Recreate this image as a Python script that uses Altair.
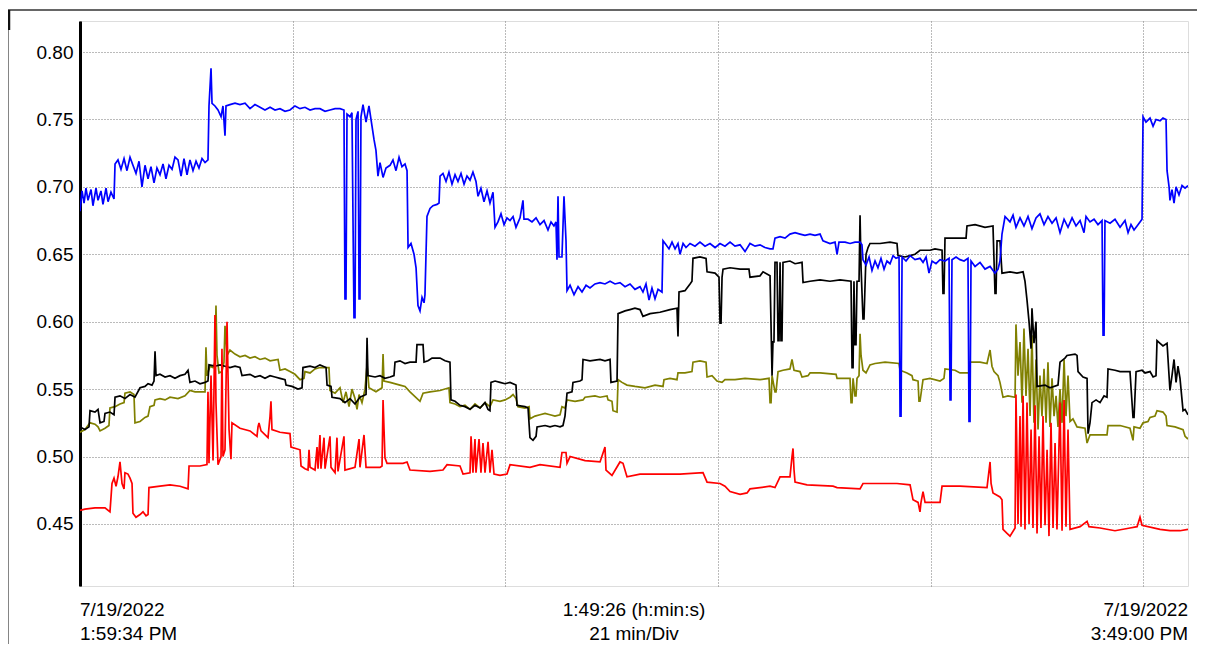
import altair as alt
import pandas as pd

# time in minutes from 1:59:34 PM, value
BLUE = [(0.00,0.682),(0.20,0.697),(0.40,0.688),(0.59,0.699),(0.79,0.690),(1.09,0.698),(1.28,0.686),(1.58,0.699),(1.78,0.690),(2.07,0.697),(2.27,0.687),(2.57,0.699),(2.77,0.689),(3.06,0.696),(3.36,0.691),
(3.46,0.717),(3.75,0.720),(4.05,0.713),(4.35,0.721),(4.64,0.712),(4.94,0.722),(5.23,0.716),(5.53,0.710),(5.83,0.719),(6.12,0.700),(6.42,0.716),(6.72,0.706),(7.01,0.715),(7.31,0.703),(7.60,0.714),(7.90,0.709),(8.20,0.717),(8.49,0.706),(8.79,0.716),(9.09,0.713),(9.38,0.722),(9.68,0.720),(9.98,0.708),(10.27,0.721),(10.57,0.709),(10.86,0.720),(11.16,0.712),(11.46,0.719),(11.75,0.714),(12.05,0.721),(12.35,0.718),(12.64,0.720),
(12.74,0.760),(12.94,0.788),(13.04,0.762),(13.33,0.760),(13.63,0.757),(13.93,0.752),(14.12,0.760),(14.32,0.738),(14.42,0.760),(14.81,0.761),(15.31,0.762),(15.80,0.761),(16.30,0.762),(16.79,0.758),(17.28,0.761),(17.78,0.759),(18.27,0.757),(18.77,0.759),(19.26,0.757),(19.75,0.758),(20.25,0.756),(20.74,0.757),(21.23,0.760),(21.73,0.758),(22.22,0.759),(22.72,0.757),(23.21,0.758),(23.70,0.758),(24.20,0.756),(24.69,0.757),(25.19,0.758),(25.68,0.758),(26.07,0.757),
(26.17,0.617),(26.27,0.617),(26.37,0.754),(26.67,0.752),(26.86,0.755),(27.06,0.603),(27.16,0.603),(27.26,0.750),(27.46,0.756),(27.56,0.617),(27.65,0.617),(27.75,0.752),(27.95,0.761),(28.25,0.748),(28.54,0.760),(28.84,0.745),(29.04,0.735),(29.23,0.727),(29.43,0.708),(29.63,0.718),(29.93,0.707),(30.22,0.714),(30.62,0.716),(30.91,0.720),(31.21,0.712),(31.51,0.722),(31.80,0.715),(32.10,0.717),(32.30,0.712),
(32.40,0.655),(32.69,0.658),(32.99,0.650),(33.19,0.640),(33.38,0.612),(33.58,0.608),(33.78,0.618),(33.98,0.614),(34.07,0.620),(34.27,0.678),(34.57,0.684),(34.86,0.686),(35.26,0.687),(35.46,0.688),
(35.56,0.708),(35.85,0.710),(36.15,0.704),(36.44,0.711),(36.74,0.702),(37.04,0.709),(37.33,0.704),(37.63,0.710),(37.93,0.702),(38.22,0.708),(38.52,0.705),(38.81,0.711),(39.11,0.704),(39.31,0.693),(39.60,0.699),(39.90,0.689),(40.20,0.697),(40.49,0.688),(40.79,0.696),
(40.99,0.670),(41.28,0.674),(41.58,0.680),(41.88,0.672),(42.17,0.677),(42.47,0.675),(42.77,0.678),(43.06,0.670),(43.46,0.677),(43.75,0.690),(43.85,0.676),(44.25,0.676),(44.64,0.674),(45.04,0.677),(45.43,0.672),(45.83,0.675),(46.22,0.668),(46.52,0.674),(46.81,0.671),(47.01,0.674),
(47.11,0.646),(47.21,0.693),(47.31,0.648),(47.60,0.648),(47.80,0.693),(48.00,0.660),(48.10,0.623),(48.40,0.627),(48.79,0.620),(49.19,0.626),(49.58,0.622),(49.98,0.627),(50.37,0.625),(50.86,0.628),(51.36,0.629),(51.85,0.628),(52.35,0.630),(52.84,0.628),(53.33,0.629),(53.83,0.626),(54.32,0.628),(54.81,0.624),(55.31,0.626),(55.60,0.622),(55.90,0.628),(56.20,0.616),(56.49,0.625),(56.79,0.617),(57.09,0.624),(57.48,0.622),
(57.58,0.660),(57.88,0.657),(58.17,0.654),(58.47,0.659),(58.77,0.654),(59.06,0.658),(59.26,0.650),(59.56,0.658),(59.85,0.655),(60.25,0.658),(60.74,0.656),(61.23,0.659),(61.73,0.656),(62.22,0.658),(62.72,0.655),(63.21,0.658),(63.70,0.656),(64.20,0.659),(64.69,0.656),(65.19,0.657),(65.68,0.652),(66.17,0.658),(66.67,0.656),(67.16,0.657),(67.65,0.655),(68.15,0.654),(68.44,0.654),
(68.64,0.662),(69.14,0.663),(69.63,0.662),(70.12,0.665),(70.62,0.666),(71.11,0.665),(71.60,0.664),(72.10,0.665),(72.59,0.664),(73.09,0.665),(73.38,0.660),(74.07,0.658),(74.57,0.659),(74.77,0.650),(74.96,0.659),(75.56,0.659),(76.05,0.658),(76.54,0.659),(77.04,0.659),(77.23,0.657),
(77.33,0.646),(77.63,0.642),(77.93,0.648),(78.22,0.638),(78.52,0.645),(78.81,0.640),(79.11,0.647),(79.41,0.639),(79.70,0.645),(80.00,0.643),(80.30,0.649),(80.59,0.647),(80.89,0.648),(80.99,0.530),(81.09,0.530),(81.19,0.648),(81.58,0.645),(81.98,0.649),(82.47,0.646),(82.96,0.647),(83.26,0.644),(83.56,0.648),(83.85,0.636),(84.15,0.645),(84.54,0.643),(84.94,0.646),(85.43,0.645),(85.83,0.647),(85.93,0.542),(86.02,0.542),(86.12,0.646),(86.52,0.648),(86.91,0.646),(87.31,0.645),(87.70,0.647),(87.80,0.526),(87.90,0.526),(88.00,0.645),(88.40,0.641),(88.89,0.644),(89.38,0.639),(89.88,0.641),(90.37,0.636),(90.67,0.639),(90.86,0.645),
(91.06,0.665),(91.36,0.678),(91.85,0.674),(92.15,0.679),(92.44,0.670),(92.84,0.677),(93.23,0.671),(93.63,0.678),(94.02,0.669),(94.42,0.677),(94.81,0.680),(95.21,0.672),(95.60,0.678),(96.00,0.673),(96.40,0.677),(96.79,0.666),(97.19,0.676),(97.58,0.670),(97.98,0.677),(98.37,0.671),(98.77,0.675),(99.16,0.666),(99.36,0.678),(99.75,0.674),(100.15,0.676),(100.54,0.672),(100.94,0.675),(101.04,0.590),(101.14,0.590),(101.23,0.675),(101.73,0.673),(102.22,0.676),(102.72,0.670),(103.21,0.675),(103.51,0.666),(103.80,0.672),(104.10,0.668),(104.40,0.671),(104.69,0.674),(104.89,0.676),
(104.99,0.752),(105.28,0.748),(105.68,0.751),(105.98,0.745),(106.27,0.750),(106.67,0.749),(106.96,0.751),(107.26,0.750),(107.36,0.712),(107.56,0.700),(107.65,0.690),(107.85,0.698),(108.05,0.688),(108.25,0.700),(108.54,0.694),(108.84,0.701),(109.14,0.699),(109.43,0.701)]

BLACK = [(0.00,0.522),(0.49,0.520),(0.89,0.522),(0.99,0.534),(1.48,0.533),(1.78,0.535),(1.98,0.525),(2.37,0.526),(2.47,0.532),(2.96,0.533),(3.36,0.531),(3.46,0.544),(3.95,0.545),(4.44,0.543),(4.94,0.546),(5.43,0.544),(5.93,0.551),(6.42,0.552),(6.72,0.554),(7.11,0.553),(7.31,0.556),(7.41,0.578),(7.51,0.560),(7.90,0.561),(8.40,0.559),(8.89,0.560),(9.38,0.558),(9.88,0.560),(10.37,0.561),(10.67,0.564),(10.86,0.555),(11.36,0.556),(11.85,0.554),(12.35,0.555),(12.64,0.556),
(12.74,0.568),(13.33,0.567),(13.83,0.568),(14.32,0.567),(14.81,0.566),(15.31,0.567),(15.80,0.566),(16.00,0.560),(16.79,0.561),(17.28,0.559),(17.78,0.560),(18.27,0.558),(18.77,0.560),(19.26,0.559),(19.75,0.558),(20.25,0.557),(20.35,0.553),(20.94,0.552),(21.53,0.550),(21.93,0.551),
(22.02,0.566),(22.72,0.567),(23.21,0.566),(23.70,0.568),(24.30,0.566),(24.40,0.553),(24.79,0.552),(24.89,0.544),(25.68,0.543),(26.17,0.540),(26.67,0.543),(27.16,0.539),(27.65,0.544),(28.25,0.546),(28.35,0.588),(28.44,0.560),(29.14,0.559),(29.63,0.560),(30.12,0.558),(30.62,0.559),(31.01,0.560),
(31.11,0.570),(31.60,0.571),(32.10,0.569),(32.59,0.570),(33.19,0.570),(33.28,0.583),(33.88,0.583),(33.98,0.570),(34.37,0.571),(34.77,0.573),(35.56,0.573),(36.05,0.571),(36.54,0.570),
(36.64,0.542),(37.04,0.541),(37.53,0.538),(38.02,0.537),(38.52,0.535),(39.01,0.538),(39.51,0.536),(40.00,0.540),(40.30,0.535),(40.49,0.534),(40.59,0.555),(40.99,0.556),(41.48,0.555),(41.98,0.554),(42.47,0.555),(43.06,0.553),
(43.16,0.538),(43.95,0.537),(44.25,0.536),(44.44,0.514),(44.74,0.512),(45.04,0.515),(45.14,0.522),(45.93,0.523),(46.42,0.522),(46.91,0.523),(47.41,0.522),(47.70,0.523),(47.90,0.530),(48.10,0.547),(48.59,0.548),(48.69,0.555),(49.38,0.556),(49.58,0.557),
(49.68,0.572),(50.37,0.571),(51.36,0.572),(51.85,0.571),(52.35,0.572),(52.44,0.555),(53.04,0.556),(53.14,0.606),(53.83,0.608),(54.32,0.609),(54.81,0.610),(55.31,0.609),(55.60,0.604),(56.30,0.606),(57.28,0.607),(58.27,0.609),(58.96,0.610),(59.06,0.589),(59.16,0.622),(59.75,0.623),(60.25,0.628),(60.44,0.630),
(60.54,0.647),(61.23,0.648),(61.83,0.647),(61.93,0.637),(62.72,0.636),(63.11,0.633),(63.21,0.599),(63.31,0.599),(63.41,0.633),(63.51,0.639),(64.20,0.640),(65.19,0.639),(66.07,0.639),(66.17,0.633),(67.16,0.634),(67.46,0.637),(68.15,0.634),
(68.35,0.560),(68.44,0.585),(68.54,0.585),(68.64,0.644),(68.84,0.644),(68.94,0.586),(69.04,0.586),(69.14,0.644),(69.23,0.586),(69.33,0.586),(69.43,0.644),(70.12,0.645),(70.62,0.643),(71.31,0.644),
(71.41,0.629),(72.10,0.630),(73.09,0.631),(74.07,0.630),(75.06,0.631),(76.15,0.630),(76.25,0.566),(76.35,0.566),(76.44,0.630),(76.54,0.583),(76.64,0.583),(76.74,0.630),(76.94,0.630),(77.04,0.679),(77.14,0.640),(77.33,0.602),(77.43,0.602),(77.63,0.650),(77.83,0.655),
(78.02,0.658),(79.01,0.658),(80.00,0.659),(80.69,0.658),(80.79,0.649),(81.48,0.648),(81.98,0.649),(82.47,0.650),(82.96,0.653),(83.95,0.653),(84.44,0.654),(85.14,0.653),(85.23,0.621),(85.33,0.621),(85.43,0.662),(86.42,0.662),(87.51,0.662),
(87.60,0.671),(88.40,0.672),(89.38,0.670),(90.17,0.671),(90.37,0.621),(90.47,0.621),(90.57,0.660),(90.86,0.660),(91.06,0.636),(91.85,0.637),(92.54,0.636),(93.14,0.637),(93.33,0.630),(93.53,0.616),(93.73,0.600),(93.93,0.580),(94.02,0.610),(94.22,0.584),(94.42,0.600),
(94.52,0.552),(95.31,0.553),(95.80,0.551),(96.59,0.553),(96.79,0.570),(97.28,0.573),(97.48,0.575),(98.27,0.576),(98.47,0.575),(98.57,0.563),(99.06,0.559),(99.46,0.558),(99.56,0.517),(99.75,0.525),(99.95,0.540),(100.35,0.542),(100.74,0.540),(101.14,0.545),(101.43,0.544),
(101.53,0.565),(102.22,0.564),(102.72,0.563),(103.70,0.563),(104.00,0.529),(104.10,0.529),(104.30,0.563),(104.89,0.564),(105.19,0.562),(105.68,0.563),(105.98,0.559),(106.27,0.560),(106.37,0.586),(106.67,0.584),(106.96,0.582),(107.36,0.584),(107.65,0.549),(107.85,0.560),(108.05,0.572),(108.25,0.555),(108.44,0.567),(108.64,0.558),(108.94,0.534),(109.14,0.535),(109.43,0.531)]

OLIVE = [(0.00,0.518),(0.49,0.520),(0.99,0.525),(1.48,0.524),(1.78,0.522),(1.98,0.519),(2.47,0.521),(2.86,0.523),(2.96,0.536),(3.46,0.537),(3.95,0.539),(4.35,0.540),(4.44,0.547),(4.94,0.548),(5.33,0.546),(5.43,0.525),(5.93,0.526),(6.42,0.529),(6.72,0.530),(6.91,0.537),(7.31,0.538),(7.41,0.542),(7.90,0.543),(8.40,0.542),(8.89,0.544),(9.68,0.543),(10.37,0.545),(10.86,0.549),(11.36,0.548),(12.35,0.548),
(12.44,0.581),(12.54,0.560),(12.84,0.567),(13.14,0.566),(13.33,0.570),(13.43,0.612),(13.53,0.575),(13.73,0.562),(14.02,0.563),(14.22,0.570),(14.32,0.597),(14.52,0.575),(14.81,0.579),(15.31,0.576),(15.80,0.574),(16.30,0.575),(16.79,0.573),(17.28,0.574),(17.78,0.572),(18.27,0.573),(18.77,0.571),(19.56,0.572),
(19.75,0.564),(20.25,0.565),(20.74,0.563),(21.23,0.561),(21.73,0.557),(22.12,0.558),(22.22,0.563),(22.72,0.562),(23.21,0.565),(23.70,0.566),(24.59,0.566),(24.69,0.549),(25.19,0.547),(25.68,0.551),(25.98,0.540),(26.27,0.548),(26.57,0.537),(26.86,0.550),(27.16,0.543),(27.36,0.535),(27.56,0.546),(27.85,0.540),(28.15,0.550),(28.35,0.568),(28.54,0.551),(29.23,0.548),(29.83,0.551),(29.93,0.576),(30.02,0.556),(30.62,0.555),(31.60,0.553),(32.10,0.552),(32.59,0.548),(33.58,0.541),(33.88,0.547),(34.57,0.548),(35.56,0.549),(36.44,0.551),
(36.54,0.540),(37.04,0.539),(37.53,0.537),(38.02,0.538),(38.52,0.535),(39.01,0.539),(39.51,0.536),(40.00,0.540),(40.49,0.537),(40.79,0.542),(41.48,0.541),(41.98,0.542),(42.47,0.544),(42.77,0.546),(43.06,0.543),(43.26,0.537),(43.95,0.536),(44.35,0.537),
(44.44,0.528),(44.94,0.530),(45.43,0.531),(45.93,0.532),(46.42,0.531),(46.91,0.530),(47.41,0.531),(47.60,0.537),(47.90,0.536),(48.10,0.542),(48.89,0.541),(49.68,0.542),(49.88,0.544),(50.86,0.545),(51.36,0.544),(52.05,0.545),(52.15,0.542),(52.54,0.541),(52.64,0.534),(53.04,0.533),
(53.14,0.557),(53.53,0.555),(54.02,0.553),(54.81,0.552),(55.80,0.551),(56.79,0.553),(57.58,0.552),(57.68,0.557),(58.27,0.558),(58.96,0.557),(59.06,0.562),(59.75,0.562),(60.44,0.563),(60.54,0.570),(61.23,0.571),(61.83,0.570),(61.93,0.559),(62.42,0.560),(62.91,0.556),(63.41,0.555),(63.70,0.557),(64.69,0.557),(65.68,0.558),(67.16,0.557),(68.05,0.558),
(68.15,0.540),(68.25,0.540),(68.35,0.560),(68.64,0.548),(68.74,0.548),(68.94,0.563),(69.43,0.564),(70.12,0.565),(70.32,0.572),(70.52,0.564),(71.11,0.563),(71.31,0.559),(71.90,0.560),(72.10,0.562),(73.09,0.562),(74.67,0.561),(74.77,0.558),(76.05,0.558),(76.15,0.540),(76.25,0.540),(76.35,0.558),(76.54,0.545),(76.64,0.545),(76.74,0.558),(76.94,0.560),(77.04,0.591),(77.14,0.575),(77.33,0.564),(77.63,0.562),(77.83,0.565),
(78.02,0.568),(78.52,0.569),(79.51,0.570),(80.89,0.569),(80.99,0.564),(81.68,0.562),(82.17,0.560),(82.27,0.557),(82.77,0.556),(82.86,0.541),(82.96,0.541),(83.26,0.557),(83.95,0.558),(84.94,0.556),(85.33,0.558),(85.43,0.565),(86.42,0.564),(86.91,0.562),(87.80,0.562),(87.90,0.570),(88.89,0.570),(89.58,0.569),(89.88,0.579),(90.07,0.567),(90.27,0.563),(90.67,0.560),(90.86,0.555),
(91.16,0.544),(91.65,0.545),(92.35,0.544),(92.44,0.598),(92.64,0.560),(92.84,0.585),(93.04,0.540),(93.23,0.595),(93.43,0.545),(93.63,0.580),(93.83,0.530),(94.02,0.590),(94.22,0.525),(94.42,0.572),(94.62,0.520),(94.81,0.560),(95.01,0.530),(95.21,0.565),(95.41,0.525),(95.60,0.570),(95.80,0.522),(96.00,0.558),(96.20,0.530),(96.40,0.545),(96.59,0.522),(96.79,0.550),(96.99,0.525),(97.19,0.572),(97.38,0.530),(97.58,0.560),(97.78,0.526),(98.07,0.528),
(98.47,0.522),(99.26,0.521),(99.46,0.510),(99.65,0.514),(99.75,0.516),(100.74,0.516),(101.43,0.516),(101.53,0.523),(102.72,0.523),(103.70,0.521),(104.00,0.512),(104.10,0.522),(104.69,0.521),(104.99,0.525),(105.48,0.526),(105.68,0.529),(106.17,0.530),(106.37,0.534),(106.96,0.533),(107.26,0.530),(107.36,0.523),(108.15,0.522),(108.94,0.520),(109.14,0.515),(109.43,0.513)]

RED = [(0.00,0.460),(0.49,0.461),(1.48,0.462),(2.47,0.462),(2.96,0.459),(3.16,0.480),(3.36,0.484),(3.56,0.478),(3.75,0.485),(3.95,0.496),(4.15,0.480),(4.35,0.476),(4.44,0.488),(4.74,0.487),(4.94,0.484),(5.14,0.480),(5.23,0.458),(5.53,0.455),(5.93,0.457),(6.22,0.459),(6.52,0.456),(6.72,0.457),
(6.81,0.477),(7.90,0.478),(8.89,0.479),(9.88,0.478),(10.67,0.476),(10.77,0.493),(11.85,0.493),(12.54,0.494),(12.64,0.548),(12.74,0.495),(12.94,0.560),(13.14,0.497),(13.33,0.605),(13.43,0.540),(13.63,0.494),(13.93,0.500),(14.02,0.580),(14.12,0.500),(14.32,0.505),(14.52,0.600),(14.72,0.520),(14.91,0.498),
(15.01,0.525),(15.80,0.521),(16.79,0.519),(17.48,0.515),(17.58,0.522),(17.68,0.525),(17.88,0.519),(18.57,0.514),(18.77,0.530),(18.86,0.541),(18.96,0.520),(19.75,0.518),(20.74,0.517),(20.84,0.507),(21.73,0.505),
(21.83,0.493),(22.22,0.491),(22.52,0.490),(22.62,0.505),(22.72,0.492),(23.21,0.490),(23.41,0.507),(23.51,0.491),(23.70,0.516),(23.80,0.491),(24.10,0.514),(24.20,0.491),(24.69,0.515),(24.79,0.492),(25.19,0.488),(25.38,0.514),(25.48,0.489),(26.07,0.515),(26.17,0.490),(27.16,0.492),(27.56,0.513),(27.65,0.492),(28.05,0.516),(28.25,0.492),(29.63,0.492),(29.83,0.493),
(29.93,0.542),(30.12,0.499),(30.32,0.495),(31.90,0.495),(32.30,0.496),(32.59,0.490),(34.57,0.489),(35.85,0.490),(36.25,0.494),(37.53,0.493),(37.83,0.487),(38.52,0.488),(38.62,0.515),(38.81,0.488),(39.01,0.513),(39.11,0.488),(39.41,0.513),(39.60,0.488),(39.80,0.510),(40.00,0.488),(40.30,0.511),(40.49,0.488),(40.69,0.505),(40.89,0.487),(41.48,0.486),(42.17,0.487),
(42.47,0.494),(44.44,0.492),(45.43,0.494),(47.41,0.492),(47.60,0.503),(48.00,0.503),(48.10,0.495),(48.40,0.500),(49.88,0.497),(51.36,0.496),(51.85,0.507),(51.95,0.490),(52.54,0.486),(53.33,0.496),(53.63,0.495),(54.02,0.485),(55.31,0.487),(57.28,0.487),(59.26,0.487),(61.53,0.488),
(61.93,0.481),(63.21,0.480),(63.70,0.478),(64.20,0.474),(65.19,0.472),(65.88,0.473),(66.17,0.476),(68.15,0.478),(68.64,0.477),(69.14,0.485),(70.12,0.485),(70.32,0.500),(70.42,0.506),(70.52,0.490),(70.62,0.481),(71.80,0.479),(74.37,0.478),(74.77,0.477),(77.04,0.476),(77.33,0.480),(80.69,0.480),(81.98,0.479),
(82.27,0.468),(82.77,0.466),(82.96,0.459),(83.06,0.466),(83.26,0.474),(83.46,0.466),(84.94,0.466),(85.14,0.478),(86.91,0.478),(89.58,0.477),(89.88,0.496),(89.98,0.480),(90.17,0.473),(90.86,0.470),(91.06,0.468),
(91.16,0.446),(91.56,0.443),(91.85,0.441),(92.35,0.447),(92.44,0.546),(92.64,0.450),(92.84,0.530),(92.94,0.448),(93.14,0.545),(93.33,0.446),(93.53,0.540),(93.73,0.450),(93.93,0.520),(94.12,0.447),(94.32,0.538),(94.52,0.443),(94.72,0.515),(94.91,0.447),(95.11,0.530),(95.31,0.449),(95.51,0.505),(95.70,0.441),(95.90,0.525),(96.10,0.447),(96.30,0.510),(96.49,0.446),(96.79,0.540),(96.99,0.445),(97.19,0.542),(97.38,0.448),(97.58,0.520),(97.78,0.446),
(98.77,0.448),(99.46,0.452),(99.65,0.448),(100.74,0.447),(102.22,0.445),(103.70,0.447),(104.40,0.448),(104.69,0.455),(104.89,0.449),(106.67,0.446),(107.65,0.445),(108.64,0.445),(109.43,0.446)]

SERIES = ["olive", "black", "blue", "red"]
COLORS = ["#808000", "#000000", "#0000ff", "#ff0000"]
DATA = {"olive": OLIVE, "black": BLACK, "blue": BLUE, "red": RED}

Y_TICKS = [0.45, 0.50, 0.55, 0.60, 0.65, 0.70, 0.75, 0.80]
X_GRID = [0, 21, 42, 63, 84, 105]
T_END = 109.43
Y_DOMAIN = [0.404, 0.823]

BOTTOM_LABELS = [
    (0.0, "7/19/2022\n1:59:34 PM", "left"),
    (T_END / 2, "1:49:26 (h:min:s)\n21 min/Div", "center"),
    (T_END, "7/19/2022\n3:49:00 PM", "right"),
]

rows = []
for k, name in enumerate(SERIES):
    for i, (t, v) in enumerate(DATA[name]):
        rows.append({"series": name, "t": t, "v": v, "i": i, "k": k})
df = pd.DataFrame(rows)

W, H = 1108, 565
FONT = "Liberation Sans"

xs = alt.Scale(domain=[0, T_END], nice=False, zero=False)
ys = alt.Scale(domain=Y_DOMAIN, nice=False, zero=False)

lines = alt.Chart(df).mark_line(strokeWidth=1.7, clip=True).encode(
    x=alt.X("t:Q", scale=xs, axis=alt.Axis(values=X_GRID, labels=False, ticks=False, domain=False,
                                           grid=True, gridDash=[1, 2], gridColor="#777777", gridWidth=1, title=None)),
    y=alt.Y("v:Q", scale=ys, axis=alt.Axis(values=Y_TICKS, format=".2f", ticks=False, domain=True,
                                           domainColor="black", domainWidth=3, labelFontSize=19,
                                           labelFont=FONT, labelColor="black", labelPadding=7,
                                           grid=True, gridDash=[1, 2], gridColor="#777777", gridWidth=1, title=None)),
    color=alt.Color("series:N", scale=alt.Scale(domain=SERIES, range=COLORS), legend=None),
    detail="series:N",
    order="i:Q",
)

lab_rows = [{"t": t, "txt": s, "al": a} for t, s, a in BOTTOM_LABELS]
labdf = pd.DataFrame(lab_rows)
texts = []
for al in ["left", "center", "right"]:
    texts.append(
        alt.Chart(labdf[labdf.al == al]).mark_text(align=al, baseline="top", fontSize=19, font=FONT,
                                                   color="black", lineHeight=24, lineBreak="\n", clip=False)
        .encode(x=alt.X("t:Q", scale=xs), y=alt.value(H + 15), text="txt:N")
    )

one = pd.DataFrame({"a": [0]})
frame_top = alt.Chart(one).mark_rule(color="#333333", strokeWidth=1.5, clip=False).encode(
    x=alt.value(-73), x2=alt.value(W + 20), y=alt.value(-11))
frame_left = alt.Chart(one).mark_rule(color="#333333", strokeWidth=1.2, clip=False).encode(
    x=alt.value(-72), y=alt.value(-11), y2=alt.value(H + 80))
frame_tick = alt.Chart(one).mark_rule(color="#111111", strokeWidth=2.5, clip=False).encode(
    x=alt.value(-71), y=alt.value(-11), y2=alt.value(9))

chart = alt.layer(lines, *texts, frame_top, frame_left, frame_tick).properties(
    width=W, height=H,
    autosize=alt.AutoSizeParams(type="none"),
    padding={"left": 72, "top": 13, "right": 9, "bottom": 58},
).configure_view(stroke="black", strokeWidth=2).configure(background="white")

chart.save("out.html", embed_options={"renderer": "svg", "actions": False})
